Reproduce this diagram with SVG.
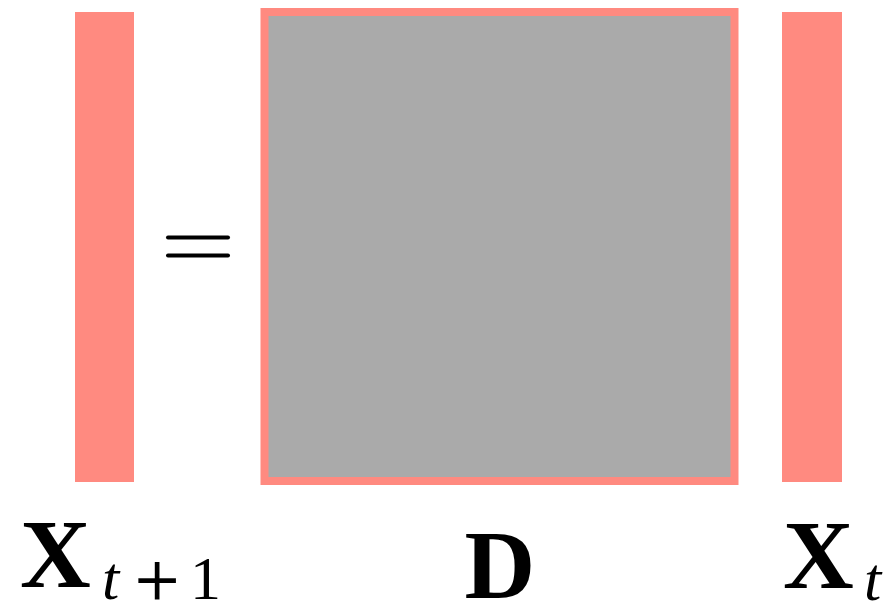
<svg xmlns="http://www.w3.org/2000/svg" width="891" height="609" viewBox="0 0 891 609">
<style>
.bar{fill:#ff8a80}
.mat{fill:#aaaaaa;stroke:#ff8a80;stroke-width:8}
.eq{stroke:#000;stroke-width:4;stroke-linecap:round}
.lbl{font-family:"Liberation Serif","DejaVu Serif",serif;fill:#000}
.b{font-weight:bold;font-size:98px}
.s{font-size:62px}
.i{font-style:italic}
.p{font-family:"DejaVu Serif",serif;font-size:60px}
</style>
<rect width="891" height="609" fill="#fff"/>
<g id="x_next">
<rect class="bar" x="75" y="12" width="59" height="470"/>
</g>
<g id="equals">
<line class="eq" x1="168" y1="237.5" x2="228" y2="237.5"/>
<line class="eq" x1="168" y1="255.5" x2="228" y2="255.5"/>
</g>
<g id="matrix_D">
<rect class="mat" x="264.5" y="12" width="470" height="469"/>
</g>
<g id="x_t">
<rect class="bar" x="782" y="12" width="60" height="470"/>
</g>
<g id="labels">
<text class="lbl" x="20" y="587"><tspan class="b">X</tspan><tspan class="s i" x="102" y="599">t</tspan><tspan class="p" x="132" y="599">+</tspan><tspan class="s" x="190" y="599">1</tspan></text>
<text class="lbl b" x="500" y="598" font-size="100" text-anchor="middle">D</text>
<text class="lbl" x="783" y="588"><tspan class="b">X</tspan><tspan class="s i" x="864" y="600">t</tspan></text>
</g>
</svg>
